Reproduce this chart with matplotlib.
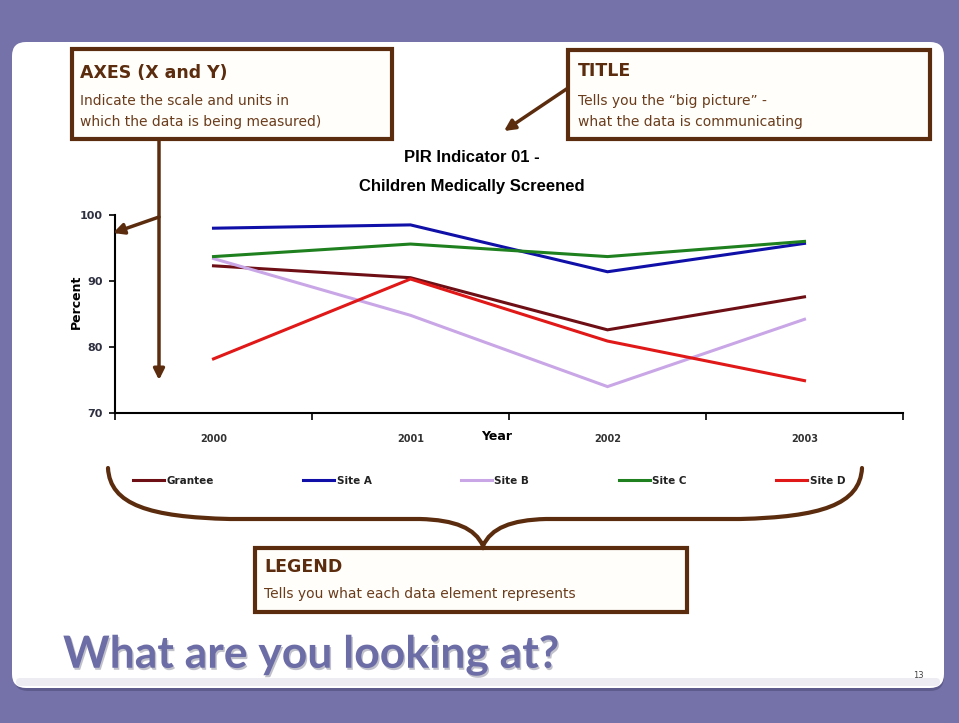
import matplotlib
matplotlib.use("Agg")
import matplotlib.pyplot as plt
from matplotlib.patches import FancyBboxPatch, Rectangle, PathPatch
from matplotlib.path import Path
import matplotlib.patheffects as pe

# data
years = ["2000", "2001", "2002", "2003"]
grantee = [92.3, 90.5, 82.6, 87.6]
site_a = [98.0, 98.5, 91.4, 95.7]
site_b = [93.4, 84.8, 74.0, 84.2]
site_c = [93.7, 95.6, 93.7, 96.0]
site_d = [78.2, 90.3, 80.9, 74.9]
series_names = ["Grantee", "Site A", "Site B", "Site C", "Site D"]
series_colors = ["#6e0f16", "#1010a8", "#c9a6e6", "#1f801f", "#e01818"]
y_ticks = [70, 80, 90, 100]

W, H = 959, 723
brown = "#5b2c0e"
body_col = "#6a3c1c"


def fx(x):
    return x / W


def fy(y):
    return 1 - y / H


def main():
    fig = plt.figure(figsize=(W / 100, H / 100), dpi=100)
    fig.patch.set_facecolor("#7572aa")

    # slide background
    bg = fig.add_axes([0, 0, 1, 1], zorder=0)
    bg.set_xlim(0, W)
    bg.set_ylim(H, 0)
    bg.axis("off")
    bg.add_patch(FancyBboxPatch((14, 46), 930, 645, boxstyle="round,pad=0,rounding_size=14",
                                fc="#4e4b78", ec="none", alpha=0.6))
    bg.add_patch(FancyBboxPatch((12, 42), 932, 646, boxstyle="round,pad=0,rounding_size=14",
                                fc="white", ec="none"))
    bg.add_patch(FancyBboxPatch((16, 678), 924, 8, boxstyle="round,pad=0,rounding_size=4",
                                fc="#ececf2", ec="none"))

    # chart
    ax = fig.add_axes([fx(115), fy(413), (903 - 115) / W, (413 - 215) / H], zorder=1)
    ax.set_facecolor("none")
    x = list(range(len(years)))
    data = [grantee, site_a, site_b, site_c, site_d]
    for vals, name, col in zip(data, series_names, series_colors):
        ax.plot(x, vals, color=col, lw=2.2, label=name, solid_joinstyle="miter")
    ax.set_xlim(-0.5, 3.5)
    ax.set_ylim(70, 100)
    ax.set_yticks(y_ticks)
    ax.set_xticks([-0.5, 0.5, 1.5, 2.5, 3.5])
    ax.set_xticklabels([])
    ax.set_xticks(x, minor=True)
    ax.set_xticklabels(years, minor=True, fontsize=7, fontweight="bold", color="#333333")
    ax.tick_params(axis="x", which="minor", length=0, pad=15)
    ax.tick_params(axis="x", which="major", length=5, width=1.2, direction="out")
    ax.tick_params(axis="y", length=4, width=1.2, pad=5, labelsize=8, labelcolor="#2e3040")
    for lab in ax.get_yticklabels():
        lab.set_fontweight("bold")
    for s in ["top", "right"]:
        ax.spines[s].set_visible(False)
    for s in ["left", "bottom"]:
        ax.spines[s].set_linewidth(1.5)
    ax.set_ylabel("Percent", fontsize=9, fontweight="bold")
    ax.yaxis.set_label_coords((83 - 115) / 788, 0.56)
    ax.set_xlabel("Year", fontsize=9, fontweight="bold")
    ax.xaxis.set_label_coords((497 - 115) / 788, -0.085)

    leg = ax.legend(ncol=5, loc="center", bbox_to_anchor=(fx(489), fy(481)),
                    bbox_transform=fig.transFigure, frameon=False,
                    prop={"size": 7.5, "weight": "bold"}, handlelength=3.0,
                    handletextpad=0.2, columnspacing=8.6)
    for t in leg.get_texts():
        t.set_color("#222222")

    # overlay: callouts, brace, slide title
    ov = fig.add_axes([0, 0, 1, 1], zorder=2)
    ov.set_facecolor("none")
    ov.set_xlim(0, W)
    ov.set_ylim(H, 0)
    ov.axis("off")

    ov.text(472, 158, "PIR Indicator 01 -", ha="center", va="center",
            fontsize=12, fontweight="bold", family="Liberation Sans")
    ov.text(472, 187, "Children Medically Screened", ha="center", va="center",
            fontsize=12, fontweight="bold", family="Liberation Sans")

    def callout(x0, y0, x1, y1, head, lines, hx, hy, ly):
        ov.add_patch(Rectangle((x0, y0), x1 - x0, y1 - y0, fc="#fffefa", ec=brown, lw=3))
        ov.text(hx, hy, head, fontsize=12.5, fontweight="bold", color=brown,
                va="center", ha="left")
        for i, line in enumerate(lines):
            ov.text(hx, ly[i], line, fontsize=10, color=body_col, va="center", ha="left")

    callout(72, 49, 392, 139, "AXES (X and Y)",
            ["Indicate the scale and units in", "which the data is being measured)"],
            80, 73, [101, 122])
    callout(568, 50, 930, 139, "TITLE",
            ["Tells you the \u201cbig picture\u201d -", "what the data is communicating"],
            578, 71, [101, 122])
    callout(255, 548, 687, 612, "LEGEND",
            ["Tells you what each data element represents"],
            264, 567, [594])

    arrow = dict(arrowstyle="-|>", color=brown, lw=2.5, mutation_scale=16,
                 shrinkA=0, shrinkB=0)
    ov.annotate("", xy=(159, 380), xytext=(159, 140), arrowprops=arrow)
    ov.annotate("", xy=(113, 233), xytext=(159, 217), arrowprops=arrow)
    ov.annotate("", xy=(504, 131), xytext=(568, 88), arrowprops=arrow)

    verts = [(108, 468), (110, 505), (150, 517), (230, 519),
             (420, 519),
             (455, 520), (475, 528), (483, 546),
             (491, 528), (511, 520), (546, 519),
             (740, 519),
             (820, 517), (860, 505), (862, 468)]
    codes = [Path.MOVETO, Path.CURVE4, Path.CURVE4, Path.CURVE4,
             Path.LINETO,
             Path.CURVE4, Path.CURVE4, Path.CURVE4,
             Path.CURVE4, Path.CURVE4, Path.CURVE4,
             Path.LINETO,
             Path.CURVE4, Path.CURVE4, Path.CURVE4]
    ov.add_patch(PathPatch(Path(verts, codes), fc="none", ec=brown, lw=3, capstyle="round"))

    ov.text(63, 655, "What are you looking at?", fontsize=32, fontweight="bold",
            family="Lato", color="#6c6ca6", va="center", ha="left",
            path_effects=[pe.withSimplePatchShadow(offset=(1, -1.5), shadow_rgbFace="#333355", alpha=0.3)])
    ov.text(918, 676, "13", fontsize=6, color="#444444", ha="center", va="center")

    fig.savefig("out.png", dpi=100, facecolor=fig.get_facecolor())


if __name__ == "__main__":
    main()
